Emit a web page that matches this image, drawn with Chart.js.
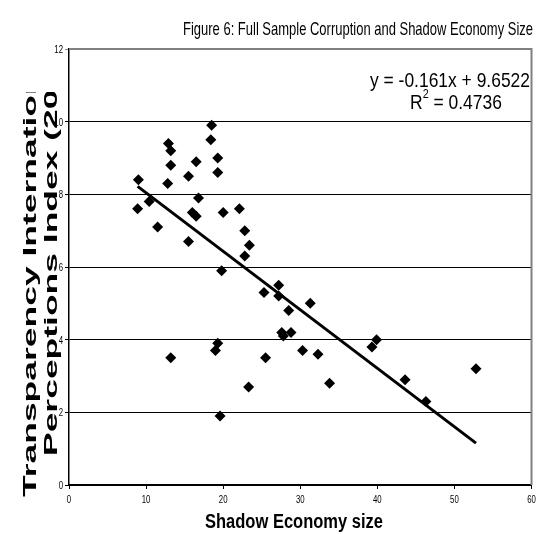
<!DOCTYPE html>
<html>
<head>
<meta charset="utf-8">
<script src="https://cdn.jsdelivr.net/npm/chart.js@4/dist/chart.umd.min.js"></script>
<style>
  html, body { margin: 0; padding: 0; background: #fff; }
  canvas { display: block; }
</style>
</head>
<body>
<canvas id="chart" width="537" height="534"></canvas>
<script>
// Shadow economy size (% of GDP) and corruption perceptions score, one entry per country
const shadowSize = [
  9.0, 18.5, 18.4, 12.9, 13.2, 13.2, 16.5, 19.3, 19.3, 15.5,
  12.8, 16.8, 10.4, 8.9, 16.0, 16.5, 20.0, 22.1, 11.5, 22.8,
  15.5, 23.4, 22.8, 19.8, 19.3, 19.0, 13.2, 23.3, 19.6, 27.2,
  25.3, 27.2, 31.3, 28.5, 27.6, 27.8, 28.8, 30.3, 32.3, 25.5,
  39.9, 39.3, 33.8, 43.6, 46.3, 52.8
];
const cpiScore = [
  8.4, 9.9, 9.5, 9.4, 9.2, 8.8, 8.9, 9.0, 8.6, 8.5,
  8.3, 7.9, 7.8, 7.6, 7.5, 7.4, 7.5, 7.6, 7.1, 7.0,
  6.7, 6.6, 6.3, 5.9, 3.9, 3.7, 3.5, 2.7, 1.9, 5.5,
  5.3, 5.2, 5.0, 4.8, 4.2, 4.1, 4.2, 3.7, 3.6, 3.5,
  4.0, 3.8, 2.8, 2.9, 2.3, 3.2
];

const xTicks = [0, 10, 20, 30, 40, 50, 60];
const yTicks = [0, 2, 4, 6, 8, 10, 12];

// Linear trend line as reported on the chart
const trendSlope = -0.161;
const trendIntercept = 9.6522;
const rSquared = '0.4736';

const chartTitle = 'Figure 6: Full Sample Corruption and Shadow Economy Size';
const xTitle = 'Shadow Economy size';
const yTitleLines = ['Transparency International', 'Perceptions Index (2000)'];

const FAMILY = "'Liberation Sans', Arial, sans-serif";

const points = shadowSize.map((x, i) => ({ x: x, y: cpiScore[i] }));
const xMin = Math.min(...shadowSize);
const xMax = Math.max(...shadowSize);
const trendPoints = [
  { x: xMin, y: trendSlope * xMin + trendIntercept },
  { x: xMax, y: trendSlope * xMax + trendIntercept }
];

// Draws text squeezed horizontally, the way a narrow typeface would look
function narrowText(ctx, text, x, y, font, stretch, align) {
  ctx.save();
  ctx.font = font;
  ctx.textBaseline = 'alphabetic';
  ctx.textAlign = 'left';
  const w = ctx.measureText(text).width * stretch;
  let left = x;
  if (align === 'center') left = x - w / 2;
  else if (align === 'right') left = x - w;
  ctx.translate(left, y);
  ctx.scale(stretch, 1);
  ctx.fillText(text, 0, 0);
  ctx.restore();
  return w;
}

function fitWidth(ctx, text, font, width) {
  ctx.save();
  ctx.font = font;
  const s = width / ctx.measureText(text).width;
  ctx.restore();
  return s;
}

const TICK_FONT = '10px ' + FAMILY;
const TICK_STRETCH = 0.78;

const decorations = {
  id: 'decorations',
  beforeDraw(chart) {
    const ctx = chart.ctx;
    ctx.save();
    ctx.fillStyle = '#fff';
    ctx.fillRect(0, 0, chart.width, chart.height);
    ctx.restore();
  },
  afterDraw(chart) {
    const ctx = chart.ctx;
    const area = chart.chartArea;
    const xs = chart.scales.x, ys = chart.scales.y;
    ctx.save();
    ctx.fillStyle = '#000';

    // grey frame on the top and right of the plot area
    ctx.strokeStyle = '#808080';
    ctx.lineWidth = 2;
    ctx.beginPath();
    ctx.moveTo(area.left, area.top);
    ctx.lineTo(area.right, area.top);
    ctx.lineTo(area.right, area.bottom);
    ctx.stroke();

    // tick labels
    ys.ticks.forEach(t => {
      narrowText(ctx, String(t.value), area.left - 6, ys.getPixelForValue(t.value) + 4, TICK_FONT, TICK_STRETCH, 'right');
    });
    xs.ticks.forEach(t => {
      narrowText(ctx, String(t.value), xs.getPixelForValue(t.value), area.bottom + 18, TICK_FONT, TICK_STRETCH, 'center');
    });

    // title
    const titleFont = '19px ' + FAMILY;
    narrowText(ctx, chartTitle, 358, 35, titleFont, fitWidth(ctx, chartTitle, titleFont, 350), 'center');

    // x axis title
    const xtFont = 'bold 20px ' + FAMILY;
    narrowText(ctx, xTitle, 294, 528, xtFont, fitWidth(ctx, xTitle, xtFont, 178), 'center');

    // regression equation
    const eqFont = '21px ' + FAMILY;
    const eq = 'y = ' + trendSlope + 'x + ' + trendIntercept;
    const eqStretch = fitWidth(ctx, eq, eqFont, 160);
    narrowText(ctx, eq, 450, 87, eqFont, eqStretch, 'center');
    const supFont = '13px ' + FAMILY;
    ctx.font = eqFont;
    const wA = ctx.measureText('R').width * eqStretch;
    const wB = ctx.measureText(' = ' + rSquared).width * eqStretch;
    ctx.font = supFont;
    const wS = ctx.measureText('2').width * eqStretch;
    const sx = 456 - (wA + wS + wB) / 2;
    narrowText(ctx, 'R', sx, 109, eqFont, eqStretch, 'left');
    narrowText(ctx, '2', sx + wA, 98, supFont, eqStretch, 'left');
    narrowText(ctx, ' = ' + rSquared, sx + wA + wS, 109, eqFont, eqStretch, 'left');

    // y axis title, two stretched bold lines, clipped at the top
    ctx.beginPath();
    ctx.rect(0, 92, 70, chart.height - 92);
    ctx.clip();
    ctx.font = 'bold 18px ' + FAMILY;
    ctx.textAlign = 'left';
    ctx.textBaseline = 'alphabetic';
    const baselines = [36, 57];
    const starts = [497, 456];
    yTitleLines.forEach((line, i) => {
      ctx.save();
      ctx.translate(baselines[i], starts[i]);
      ctx.rotate(-Math.PI / 2);
      ctx.scale(1.97, 1);
      ctx.fillText(line, 0, 0);
      ctx.restore();
    });
    ctx.restore();
  }
};

new Chart(document.getElementById('chart'), {
  type: 'scatter',
  data: {
    datasets: [
      {
        type: 'line',
        data: trendPoints,
        borderColor: '#000',
        borderWidth: 3,
        pointRadius: 0,
        fill: false,
        order: 2
      },
      {
        data: points,
        pointStyle: 'rectRot',
        pointRadius: 5.5,
        backgroundColor: '#000',
        borderColor: '#000',
        borderWidth: 0,
        order: 1
      }
    ]
  },
  options: {
    responsive: false,
    animation: false,
    layout: { padding: { top: 49, right: 5, left: 0, bottom: 0 } },
    plugins: { legend: { display: false }, tooltip: { enabled: false }, title: { display: false } },
    scales: {
      x: {
        type: 'linear',
        min: 0, max: 60,
        afterBuildTicks(scale) { scale.ticks = xTicks.map(v => ({ value: v })); },
        afterFit(scale) { scale.height = 49; },
        ticks: { display: false },
        grid: { drawOnChartArea: false, color: '#000', tickLength: 4 },
        border: { color: '#000', width: 2 }
      },
      y: {
        type: 'linear',
        min: 0, max: 12,
        afterBuildTicks(scale) { scale.ticks = yTicks.map(v => ({ value: v })); },
        afterFit(scale) { scale.width = 69; },
        ticks: { display: false },
        grid: {
          color: ctx => ctx.tick && ctx.tick.value === 12 ? '#808080' : '#000',
          lineWidth: 1,
          tickLength: 4
        },
        border: { color: '#000', width: 1.5 }
      }
    }
  },
  plugins: [decorations]
});
</script>
</body>
</html>
